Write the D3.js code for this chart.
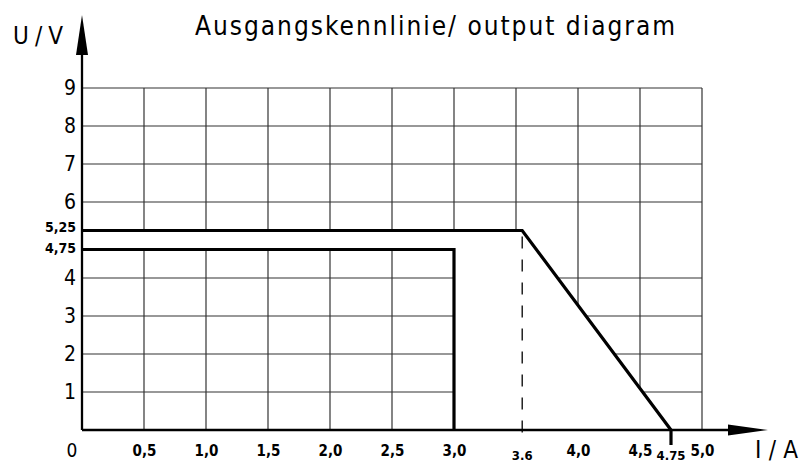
<!DOCTYPE html>
<html>
<head>
<meta charset="utf-8">
<script src="https://cdn.jsdelivr.net/npm/d3@7"></script>
<style>
  body { margin: 0; background: white; }
  text { font-family: "DejaVu Sans Condensed", "DejaVu Sans", sans-serif; fill: #000; }
</style>
</head>
<body>
<div id="vis"></div>
<script>
// chart values
const xTicks = [0.5, 1.0, 1.5, 2.0, 2.5, 3.0, 3.5, 4.0, 4.5, 5.0];
const xTickLabels = ["0,5", "1,0", "1,5", "2,0", "2,5", "3,0", "", "4,0", "4,5", "5,0"];
const yTicks = [1, 2, 3, 4, 6, 7, 8, 9];
const yTickLabels = ["1", "2", "3", "4", "6", "7", "8", "9"];
const yMarks = [5.25, 4.75];
const yMarkLabels = ["5,25", "4,75"];
const kneeCurrent = 3.55;   // drawn position of the 3.6 A knee
const kneeLabel = "3.6";
const endCurrent = 4.75;
const endLabel = "4.75";
const limitCurrent = 3.0;

// curve 1: 4.75 V constant up to 3.0 A
const curveLow = [[0, yMarks[1]], [limitCurrent, yMarks[1]], [limitCurrent, 0]];
// curve 2: 5.25 V up to knee, then falls to 0 at 4.75 A
const curveHigh = [[0, yMarks[0]], [kneeCurrent, yMarks[0]], [endCurrent, 0]];
// area without grid between/under the curves
const clearArea = [[0, yMarks[0]], [kneeCurrent, yMarks[0]], [endCurrent, 0],
  [limitCurrent, 0], [limitCurrent, yMarks[1]], [0, yMarks[1]]];

let width = 801;
let height = 463;

let svg = d3.select("#vis")
  .append("svg")
  .attr("width", width)
  .attr("height", height)
  .style("background", "white");

let xScale = d3.scaleLinear().domain([0, 5]).range([82, 702]);
let yScale = d3.scaleLinear().domain([0, 9]).range([430, 88]);

// grid
let grid = svg.append("g").attr("stroke", "#333").attr("stroke-width", 1.2);
grid.selectAll(".v")
  .data(xTicks)
  .enter()
  .append("line")
  .attr("x1", d => xScale(d)).attr("x2", d => xScale(d))
  .attr("y1", yScale(9)).attr("y2", yScale(0));
grid.selectAll(".h")
  .data(yTicks)
  .enter()
  .append("line")
  .attr("x1", xScale(0)).attr("x2", xScale(5))
  .attr("y1", d => yScale(d)).attr("y2", d => yScale(d));

let line = d3.line().x(d => xScale(d[0])).y(d => yScale(d[1]));

svg.append("path")
  .attr("d", line(clearArea) + "Z")
  .attr("fill", "white");

// dashed line at knee
svg.append("line")
  .attr("x1", xScale(kneeCurrent)).attr("x2", xScale(kneeCurrent))
  .attr("y1", yScale(yMarks[0])).attr("y2", yScale(0) + 13)
  .attr("stroke", "#000")
  .attr("stroke-width", 1.3)
  .attr("stroke-dasharray", "12,11")
  .attr("stroke-dashoffset", -6);

// axes lines with arrows
svg.append("line")
  .attr("x1", xScale(0)).attr("x2", xScale(0))
  .attr("y1", yScale(0)).attr("y2", 55)
  .attr("stroke", "#000").attr("stroke-width", 2.3);
svg.append("path")
  .attr("d", `M${xScale(0) - 6},55 L${xScale(0)},15 L${xScale(0) + 6},55 Z`)
  .attr("fill", "#000");
svg.append("line")
  .attr("x1", xScale(0)).attr("x2", 730)
  .attr("y1", yScale(0)).attr("y2", yScale(0))
  .attr("stroke", "#000").attr("stroke-width", 2.3);
svg.append("path")
  .attr("d", `M728,${yScale(0) - 5.5} L768,${yScale(0)} L728,${yScale(0) + 5.5} Z`)
  .attr("fill", "#000");

// curves
[curveLow, curveHigh].forEach(c => {
  svg.append("path")
    .attr("d", line(c))
    .attr("fill", "none")
    .attr("stroke", "#000")
    .attr("stroke-width", 3.2)
    .attr("stroke-linejoin", "miter");
});
svg.append("line")
  .attr("x1", xScale(endCurrent)).attr("x2", xScale(endCurrent))
  .attr("y1", yScale(0)).attr("y2", yScale(0) + 15)
  .attr("stroke", "#000").attr("stroke-width", 3.2);

// x tick labels
let xAxis = svg.append("g")
  .attr("transform", `translate(0, ${yScale(0)})`)
  .call(d3.axisBottom(xScale).tickValues(xTicks).tickSize(0)
    .tickFormat((d, i) => xTickLabels[i]));
xAxis.select(".domain").remove();
xAxis.selectAll("text")
  .attr("y", 26)
  .attr("dy", 0)
  .style("font-size", "15px")
  .style("font-weight", "bold")
  .style("font-family", "DejaVu Sans Condensed");

svg.selectAll(".xextra")
  .data([[kneeCurrent, kneeLabel], [endCurrent, endLabel]])
  .enter()
  .append("text")
  .attr("x", d => xScale(d[0]))
  .attr("y", 460)
  .attr("text-anchor", "middle")
  .style("font-size", "13px")
  .style("font-weight", "bold")
  .text(d => d[1]);

svg.append("text")
  .attr("x", 72)
  .attr("y", 457)
  .attr("text-anchor", "middle")
  .style("font-size", "19px")
  .text("0");

// y tick labels
let yAxis = svg.append("g")
  .attr("transform", `translate(${xScale(0)}, 0)`)
  .call(d3.axisLeft(yScale).tickValues(yTicks).tickSize(0)
    .tickFormat((d, i) => yTickLabels[i]));
yAxis.select(".domain").remove();
yAxis.selectAll("text")
  .attr("x", -6)
  .attr("dy", "0.3em")
  .style("font-size", "21px")
  .style("font-family", "DejaVu Sans Condensed");

svg.selectAll(".ymark")
  .data(yMarks)
  .enter()
  .append("text")
  .attr("x", 76)
  .attr("y", d => yScale(d))
  .attr("dy", (d, i) => i === 0 ? "0.1em" : "0.25em")
  .attr("text-anchor", "end")
  .style("font-size", "14px")
  .style("font-weight", "bold")
  .text((d, i) => yMarkLabels[i]);

// titles
svg.append("text")
  .attr("x", 195)
  .attr("y", 35)
  .attr("textLength", 480)
  .attr("lengthAdjust", "spacing")
  .style("font-size", "26px")
  .text("Ausgangskennlinie/ output diagram");

svg.append("text")
  .attr("x", 13)
  .attr("y", 44)
  .attr("textLength", 50)
  .attr("lengthAdjust", "spacing")
  .style("font-size", "24px")
  .text("U/V");

svg.append("text")
  .attr("x", 755)
  .attr("y", 458)
  .attr("textLength", 43)
  .attr("lengthAdjust", "spacing")
  .style("font-size", "24px")
  .text("I/A");
</script>
</body>
</html>
